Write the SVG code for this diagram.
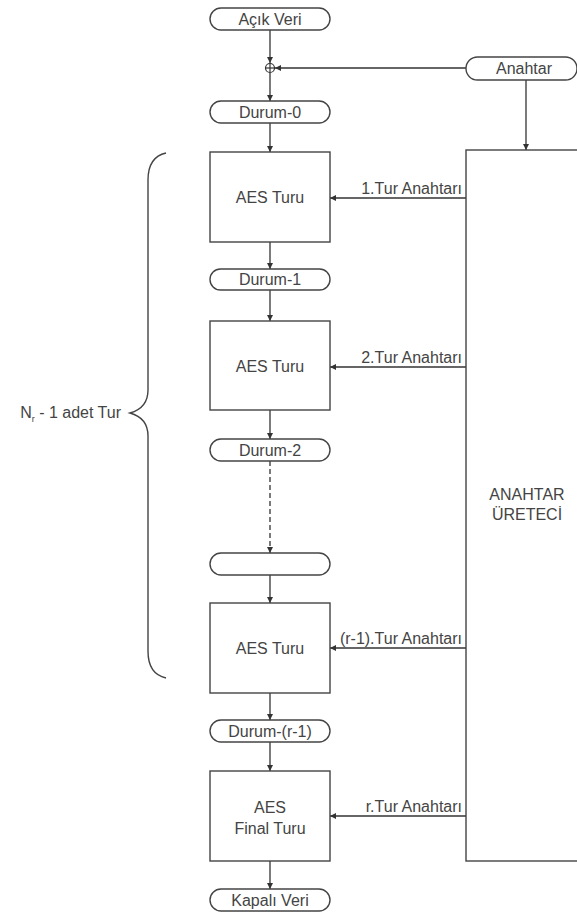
<svg xmlns="http://www.w3.org/2000/svg" width="577" height="915" viewBox="0 0 577 915">
<defs>
<marker id="arr" markerUnits="userSpaceOnUse" markerWidth="8" markerHeight="8" refX="6" refY="3" orient="auto">
<path d="M0,0 L6,3 L0,6 Z" fill="#333"/>
</marker>
<style>
.shape{fill:#fff;stroke:#444;stroke-width:1.4}
.conn{fill:none;stroke:#333;stroke-width:1.3;marker-end:url(#arr)}
.t{font-family:"Liberation Sans",Arial,sans-serif;font-size:16px;fill:#444;text-anchor:middle}
.lbl{font-family:"Liberation Sans",Arial,sans-serif;font-size:16px;fill:#444;text-anchor:end}
</style>
</defs>
<rect width="577" height="915" fill="#fff"/>

<g id="connectors">
<line class="conn" x1="270" y1="30" x2="270" y2="63"/>
<line class="conn" x1="270" y1="73" x2="270" y2="101"/>
<line class="conn" x1="466" y1="68" x2="275" y2="68"/>
<line class="conn" x1="526" y1="80" x2="526" y2="150"/>
<line class="conn" x1="270" y1="123" x2="270" y2="152"/>
<line class="conn" x1="270" y1="242" x2="270" y2="269"/>
<line class="conn" x1="270" y1="290" x2="270" y2="321"/>
<line class="conn" x1="270" y1="410" x2="270" y2="439"/>
<line class="conn" x1="270" y1="461" x2="270" y2="553" stroke-dasharray="5,3"/>
<line class="conn" x1="270" y1="575" x2="270" y2="603"/>
<line class="conn" x1="270" y1="693" x2="270" y2="720"/>
<line class="conn" x1="270" y1="742" x2="270" y2="771"/>
<line class="conn" x1="270" y1="861" x2="270" y2="889"/>
<line class="conn" x1="466" y1="198" x2="330" y2="198"/>
<line class="conn" x1="466" y1="367" x2="330" y2="367"/>
<line class="conn" x1="466" y1="648" x2="330" y2="648"/>
<line class="conn" x1="466" y1="816" x2="330" y2="816"/>
<text class="lbl" x="462" y="194">1.Tur Anahtarı</text>
<text class="lbl" x="462" y="363">2.Tur Anahtarı</text>
<text class="lbl" x="462" y="644">(r-1).Tur Anahtarı</text>
<text class="lbl" x="462" y="812">r.Tur Anahtarı</text>
</g>

<g id="acik-veri">
<rect class="shape" x="210" y="8" width="120" height="22" rx="11"/>
<text class="t" x="270" y="25">Açık Veri</text>
</g>
<g id="xor">
<circle cx="270" cy="68" r="4.5" fill="#fff" stroke="#333" stroke-width="1.2"/>
<line x1="265.5" y1="68" x2="274.5" y2="68" stroke="#333" stroke-width="1.2"/>
<line x1="270" y1="63.5" x2="270" y2="72.5" stroke="#333" stroke-width="1.2"/>
</g>
<g id="anahtar">
<rect class="shape" x="466" y="57" width="111" height="23" rx="11.5"/>
<text class="t" x="524" y="74">Anahtar</text>
</g>
<g id="durum-0">
<rect class="shape" x="210" y="101" width="120" height="22" rx="11"/>
<text class="t" x="270" y="118">Durum-0</text>
</g>
<g id="aes-1">
<rect class="shape" x="210" y="152" width="120" height="90"/>
<text class="t" x="270" y="203">AES Turu</text>
</g>
<g id="durum-1">
<rect class="shape" x="210" y="269" width="120" height="21" rx="10.5"/>
<text class="t" x="270" y="285">Durum-1</text>
</g>
<g id="aes-2">
<rect class="shape" x="210" y="321" width="120" height="89"/>
<text class="t" x="270" y="372">AES Turu</text>
</g>
<g id="durum-2">
<rect class="shape" x="210" y="439" width="120" height="22" rx="11"/>
<text class="t" x="270" y="456">Durum-2</text>
</g>
<g id="durum-empty">
<rect class="shape" x="210" y="553" width="120" height="22" rx="11"/>
</g>
<g id="aes-3">
<rect class="shape" x="210" y="603" width="120" height="90"/>
<text class="t" x="270" y="654">AES Turu</text>
</g>
<g id="durum-r1">
<rect class="shape" x="210" y="720" width="120" height="22" rx="11"/>
<text class="t" x="270" y="737">Durum-(r-1)</text>
</g>
<g id="aes-final">
<rect class="shape" x="210" y="771" width="120" height="90"/>
<text class="t" x="270" y="813">AES</text>
<text class="t" x="270" y="834">Final Turu</text>
</g>
<g id="kapali-veri">
<rect class="shape" x="210" y="889" width="120" height="22" rx="11"/>
<text class="t" x="270" y="906">Kapalı Veri</text>
</g>
<g id="anahtar-ureteci">
<rect class="shape" x="466" y="150" width="130" height="711"/>
<text class="t" x="527" y="500">ANAHTAR</text>
<text class="t" x="527" y="520">ÜRETECİ</text>
</g>
<g id="brace">
<path d="M166,153 Q148,157 148,180 L148,390 Q148,408 130,413 Q148,418 148,436 L148,651 Q148,674 166,678" fill="none" stroke="#444" stroke-width="1.4"/>
<text font-family="'Liberation Sans',Arial,sans-serif" font-size="16" fill="#444" x="121" y="418" text-anchor="end">N<tspan font-size="9" dy="4">r</tspan><tspan dy="-4"> - 1 adet Tur</tspan></text>
</g>
</svg>
